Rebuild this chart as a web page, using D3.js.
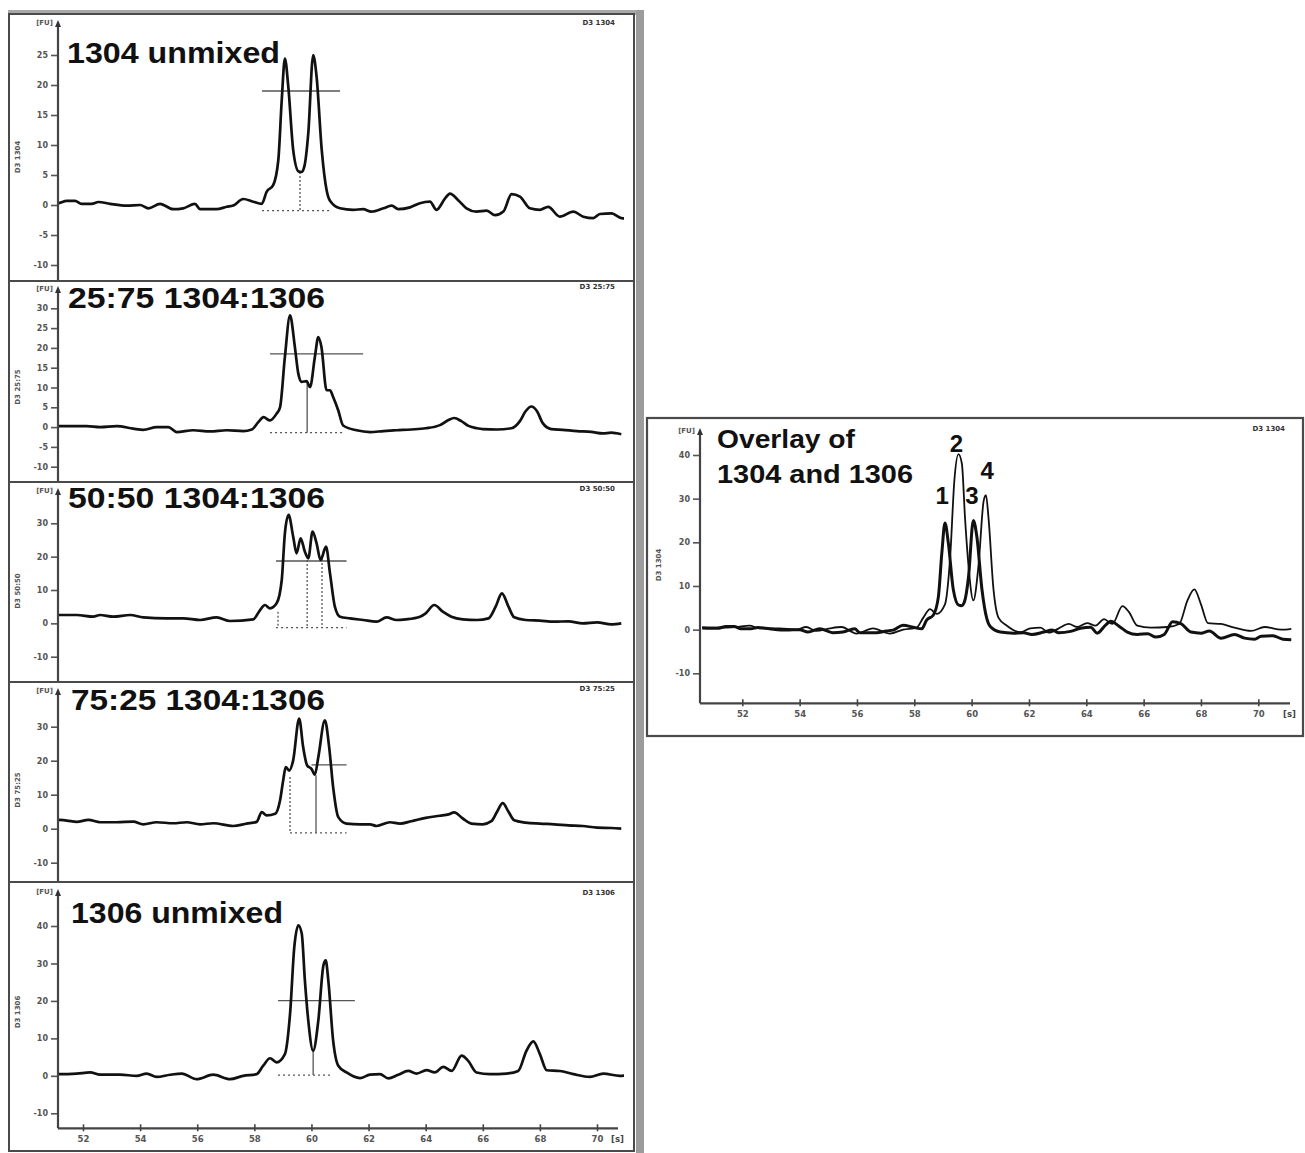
<!DOCTYPE html>
<html><head><meta charset="utf-8">
<script src="https://cdn.jsdelivr.net/npm/d3@7/dist/d3.min.js"></script>
<style>body{margin:0;background:#fff}svg{display:block}</style>
</head><body>
<svg id="c" width="1305" height="1153"></svg>
<script>
// ---------------- data ----------------
const timeTicks = [52, 54, 56, 58, 60, 62, 64, 66, 68, 70];
const panelTitles = ["1304 unmixed", "25:75 1304:1306", "50:50 1304:1306", "75:25 1304:1306", "1306 unmixed"];
const sampleNames = ["D3 1304", "D3 25:75", "D3 50:50", "D3 75:25", "D3 1306"];
const overlayTitle = ["Overlay of", "1304 and 1306"];
const overlaySample = "D3 1304";
const yTicks1304 = [-10, -5, 0, 5, 10, 15, 20, 25];
const yTicks2575 = [-10, -5, 0, 5, 10, 15, 20, 25, 30];
const yTicks5050 = [-10, 0, 10, 20, 30];
const yTicks7525 = [-10, 0, 10, 20, 30];
const yTicks1306 = [-10, 0, 10, 20, 30, 40];
const yTicksOverlay = [-10, 0, 10, 20, 30, 40];

// [time (s), fluorescence (FU)]
const trace1304 = [[50.6,0.4],[51.125,0.3],[51.43,0.7],[51.72,0.7],[51.95,0.2],[52.3,0.2],[52.54,0.5],[52.95,0.2],[53.53,-0.1],[54.0,0],[54.29,-0.55],[54.7,0.2],[55.16,-0.7],[55.51,-0.55],[55.92,0.2],[56.1,-0.7],[56.68,-0.7],[57.03,-0.3],[57.26,-0.1],[57.61,1.0],[57.96,0.55],[58.26,0.2],[58.43,2.2],[58.66,3.3],[58.84,7.5],[58.96,17.5],[59.07,24.4],[59.19,19.7],[59.36,9.2],[59.55,5.6],[59.65,5.5],[59.75,6.4],[59.89,12],[60.06,25],[60.18,21.4],[60.36,9.2],[60.53,2.5],[60.65,0.7],[61.0,-0.55],[61.46,-0.8],[61.81,-0.7],[62.1,-1.1],[62.52,-0.55],[62.81,-0.1],[63.04,-0.7],[63.45,-0.4],[63.8,0.3],[64.15,0.55],[64.38,-0.8],[64.68,1.1],[64.85,1.9],[65.14,0.8],[65.43,-0.55],[65.78,-1.1],[66.14,-0.95],[66.43,-1.7],[66.72,-1.1],[67.01,1.8],[67.3,1.4],[67.65,-0.55],[68.0,-0.8],[68.29,-0.3],[68.7,-1.95],[69.17,-1.1],[69.52,-1.95],[69.87,-2.2],[70.1,-1.5],[70.51,-1.4],[70.86,-2.2],[71.15,-2.3]];
const trace2575 = [[51.08,0.25],[51.43,0.25],[52.13,0.25],[52.6,0],[53.18,0.25],[53.76,-0.4],[54.11,-0.7],[54.58,0],[54.99,0],[55.28,-1.25],[55.86,-0.8],[56.45,-1.1],[57.03,-0.8],[57.61,-1],[57.91,-0.6],[58.14,1.25],[58.32,2.5],[58.55,1.7],[58.78,3.4],[58.9,5],[59.07,17.7],[59.25,28.2],[59.42,20.2],[59.54,13.5],[59.66,11.4],[59.83,11.6],[59.95,10.1],[60.12,17.7],[60.24,22.7],[60.35,20.2],[60.53,9.3],[60.65,9.3],[60.76,7.6],[60.94,4.2],[61.11,0.4],[61.58,-0.8],[62.05,-1.25],[62.52,-1],[62.98,-0.8],[63.5,-0.6],[64.0,-0.3],[64.5,0.5],[64.8,1.8],[65.0,2.3],[65.25,1.5],[65.5,0.3],[65.8,-0.3],[66.0,-0.5],[66.5,-0.6],[67.0,-0.3],[67.3,1.5],[67.5,4],[67.7,5.2],[67.9,4],[68.1,1],[68.4,-0.5],[68.8,-0.7],[69.3,-1],[69.8,-1.2],[70.2,-1.6],[70.5,-1.4],[70.85,-1.8]];
const trace5050 = [[51.1,2.5],[51.78,2.5],[52.36,2.0],[52.6,2.5],[53.06,2.0],[53.65,2.5],[54.11,1.8],[54.93,1.5],[55.51,1.5],[56.1,1.0],[56.68,1.8],[57.15,0.7],[57.96,1.2],[58.2,4],[58.37,5.5],[58.55,4.5],[58.78,6],[58.96,13],[59.07,27],[59.2,32.5],[59.36,26],[59.48,21],[59.62,25.5],[59.77,21.5],[59.89,19.5],[60.04,27.5],[60.18,24],[60.32,19],[60.51,23],[60.65,15],[60.82,5],[61.0,2],[61.35,1.5],[61.81,1],[62.28,0.5],[62.63,1.8],[62.98,1],[63.3,1.2],[63.8,2],[64.0,3],[64.3,5.5],[64.6,3.5],[64.9,2],[65.3,1.2],[65.8,1],[66.2,1.5],[66.45,5],[66.67,9],[66.9,5],[67.1,1.8],[67.5,1],[68,0.8],[68.5,0.5],[69,0.6],[69.5,0],[70,0.3],[70.5,-0.3],[70.85,0]];
const trace7525 = [[51.1,2.6],[51.43,2.4],[51.78,2],[52.19,2.6],[52.6,1.9],[53.18,1.9],[53.76,2.1],[54.11,1.3],[54.58,1.9],[55.16,1.6],[55.63,1.9],[56.1,1.3],[56.56,1.6],[57.26,0.8],[57.73,1.5],[58.08,2],[58.26,4.9],[58.43,3.9],[58.73,4.4],[58.9,8.3],[59.01,14.2],[59.1,18.1],[59.22,17.1],[59.36,20.1],[59.57,32.4],[59.71,24],[59.85,18.6],[60.0,17.6],[60.12,15.9],[60.24,21],[60.47,31.9],[60.62,24],[60.76,12.2],[60.94,3.4],[61.23,1.5],[61.7,1.3],[62.05,1.3],[62.28,0.8],[62.75,1.9],[63.1,1.5],[63.5,2.2],[64.0,3.2],[64.5,3.8],[64.8,4.2],[65.0,4.8],[65.3,3],[65.6,1.5],[66.0,1.3],[66.3,2.2],[66.5,5],[66.7,7.5],[66.9,5],[67.1,2.5],[67.5,1.8],[68.0,1.5],[68.5,1.3],[69.0,1],[69.5,0.8],[70,0.3],[70.5,0.2],[70.85,0]];
const trace1306 = [[50.6,0.5],[51.125,0.45],[51.78,0.6],[52.25,0.9],[52.6,0.3],[53.3,0.3],[53.88,0],[54.23,0.6],[54.58,-0.3],[55.05,0.3],[55.46,0.6],[55.98,-0.9],[56.56,0.3],[57.15,-0.9],[57.61,0],[58.08,0.45],[58.31,2.7],[58.55,4.7],[58.78,3.6],[59.07,5.8],[59.25,16.5],[59.4,34.4],[59.54,40.2],[59.66,38],[59.77,25.5],[59.89,14.7],[60.06,6.7],[60.24,14.7],[60.42,29.5],[60.5,30.8],[60.59,25.5],[60.76,9.4],[60.94,2.7],[61.23,0.9],[61.7,-0.6],[62.05,0.3],[62.4,0.45],[62.69,-0.7],[63.04,0.3],[63.39,1.3],[63.68,0.6],[64.03,1.5],[64.32,0.9],[64.62,2.4],[64.91,1.3],[65.26,5.4],[65.49,4],[65.78,0.9],[66.25,0.45],[66.83,0.6],[67.24,1.3],[67.53,6.7],[67.77,9.2],[68.0,5.8],[68.24,1.5],[68.7,1.3],[69.17,0.45],[69.75,-0.3],[70.22,0.6],[70.8,0],[71.15,0.2]];

// integration markers per panel: threshold [level, from, to], baseline [level, from, to], splits [time, top, dashed]
const thresholds = [[19, 58.27, 61.0], [18.5, 58.55, 61.81], [18.7, 58.76, 61.23], [18.8, 60.0, 61.23], [20.1, 58.83, 61.52]];
const baselines = [[-0.95, 58.27, 60.65], [-1.4, 58.55, 61.17], [-1.3, 58.76, 61.23], [-1.2, 59.25, 61.23], [0.2, 58.83, 60.75]];
const splits = [[[59.6, 5.5, 1]], [[59.85, 11, 0]], [[58.83, 3.5, 1], [59.85, 19, 1], [60.37, 19.3, 1]], [[59.25, 15.2, 1], [60.16, 15.7, 0]], [[60.06, 7.2, 0]]];

const peakLabels = ["1", "2", "3", "4"];
const peakLabelTime = [58.97, 59.47, 60.01, 60.54];
const peakLabelLevel = [28.8, 40.8, 28.8, 34.6];

// ---------------- drawing ----------------
const svg = d3.select("#c");
svg.append("rect").attr("width", 1305).attr("height", 1153).attr("fill", "#fff");
const FONT = "'Liberation Sans', Arial, sans-serif";
const SMALL = "'DejaVu Sans', sans-serif";
const ink = "#111";
const fmt = d => String(d);

const traces = [trace1304, trace2575, trace5050, trace7525, trace1306];
const yTicksAll = [yTicks1304, yTicks2575, yTicks5050, yTicks7525, yTicks1306];
const layout = [
  {top: 14, bottom: 281, yr: [265, 55], arrow: 24, title: 63, tx: 67, tw: 213, sample: 25, lab: 157},
  {top: 281, bottom: 482, yr: [466.7, 308.3], arrow: 290, title: 308, tx: 68, tw: 257, sample: 289, lab: 387},
  {top: 482, bottom: 682, yr: [656.7, 523.3], arrow: 492, title: 508, tx: 68, tw: 257, sample: 491, lab: 591},
  {top: 682, bottom: 882, yr: [862.7, 726.7], arrow: 692, title: 710, tx: 71, tw: 254, sample: 691, lab: 790},
  {top: 882, bottom: 1151, yr: [1113.3, 926], arrow: 893, title: 923, tx: 71, tw: 212, sample: 895, lab: 1012}
];
const xL = d3.scaleLinear().domain([52, 70]).range([83, 597]);
const axisX0 = 58, axisX1 = 618;

// outer decorations of left column
svg.append("rect").attr("x", 8).attr("y", 10).attr("width", 636).attr("height", 5).attr("fill", "#a8a8a8");
svg.append("rect").attr("x", 636).attr("y", 10).attr("width", 8).attr("height", 1143).attr("fill", "#9c9c9c");

function drawYAxis(g, y, ticks, xAxis, arrowTop, bottom) {
  const ax = g.append("g").attr("transform", `translate(${xAxis},0)`)
    .call(d3.axisLeft(y).tickValues(ticks).tickSize(7).tickPadding(3).tickFormat(fmt));
  ax.select(".domain").remove();
  ax.selectAll("line").attr("stroke", "#555").attr("stroke-width", 1.6);
  ax.selectAll("text").attr("font-family", SMALL).attr("font-size", 8).attr("font-weight", "bold").attr("fill", "#555");
  g.append("line").attr("x1", xAxis).attr("x2", xAxis).attr("y1", arrowTop).attr("y2", bottom)
    .attr("stroke", "#444").attr("stroke-width", 2.2);
  g.append("path").attr("d", `M${xAxis},${arrowTop - 4}L${xAxis - 3},${arrowTop + 3}L${xAxis + 3},${arrowTop + 3}Z`).attr("fill", "#333");
  g.append("text").attr("x", xAxis - 5).attr("y", arrowTop + 1).attr("text-anchor", "end")
    .attr("font-family", SMALL).attr("font-size", 7).attr("font-weight", "bold").attr("fill", "#555").text("[FU]");
}

function drawXAxis(g, x, yAxis, x0, x1) {
  g.append("line").attr("x1", x0).attr("x2", x1).attr("y1", yAxis).attr("y2", yAxis).attr("stroke", "#444").attr("stroke-width", 2.2);
  const ax = g.append("g").attr("transform", `translate(0,${yAxis})`)
    .call(d3.axisBottom(x).tickValues(timeTicks).tickSize(3).tickPadding(5).tickFormat(fmt));
  ax.select(".domain").remove();
  ax.selectAll("line").attr("stroke", "#444").attr("stroke-width", 1.6);
  ax.selectAll("text").attr("font-family", SMALL).attr("font-size", 8.5).attr("font-weight", "bold").attr("fill", "#555");
  const up = g.append("g").attr("transform", `translate(0,${yAxis})`)
    .call(d3.axisBottom(x).tickValues(timeTicks).tickSize(-4).tickFormat(""));
  up.select(".domain").remove();
  up.selectAll("line").attr("stroke", "#444").attr("stroke-width", 1.6);
  g.append("text").attr("x", x1 - 7).attr("y", yAxis + 14).attr("font-family", SMALL).attr("font-size", 8.5)
    .attr("font-weight", "bold").attr("fill", "#444").text("[s]");
}

function drawTrace(g, data, x, y, clipId, width) {
  const line = d3.line().x(d => x(d[0])).y(d => y(d[1])).curve(d3.curveMonotoneX);
  g.append("path").datum(data).attr("d", line).attr("fill", "none").attr("stroke", ink)
    .attr("stroke-width", width).attr("stroke-linejoin", "round").attr("clip-path", `url(#${clipId})`);
}

const defs = svg.append("defs");

layout.forEach((L, i) => {
  const g = svg.append("g");
  const y = d3.scaleLinear().domain([yTicksAll[i][0], yTicksAll[i][yTicksAll[i].length - 1]]).range(L.yr);
  g.append("rect").attr("x", 9).attr("y", L.top).attr("width", 625).attr("height", L.bottom - L.top)
    .attr("fill", "none").attr("stroke", "#4a4a4a").attr("stroke-width", 2);
  const clipId = "clip" + i;
  defs.append("clipPath").attr("id", clipId).append("rect")
    .attr("x", axisX0 + 1).attr("y", L.top + 2).attr("width", 623 - axisX0).attr("height", L.bottom - L.top - 4);

  const isLast = i === layout.length - 1;
  const axisBottom = isLast ? 1128.3 : L.bottom;
  drawYAxis(g, y, yTicksAll[i], axisX0, L.arrow, axisBottom);
  if (isLast) drawXAxis(g, xL, 1128.3, axisX0, axisX1);

  // integration markers
  const th = thresholds[i], bl = baselines[i];
  g.append("line").attr("x1", xL(th[1])).attr("x2", xL(th[2])).attr("y1", y(th[0])).attr("y2", y(th[0]))
    .attr("stroke", "#555").attr("stroke-width", 1.3);
  g.append("line").attr("x1", xL(bl[1])).attr("x2", xL(bl[2])).attr("y1", y(bl[0])).attr("y2", y(bl[0]))
    .attr("stroke", "#555").attr("stroke-width", 1.3).attr("stroke-dasharray", "2,3");
  splits[i].forEach(s => {
    g.append("line").attr("x1", xL(s[0])).attr("x2", xL(s[0])).attr("y1", y(s[1])).attr("y2", y(bl[0]))
      .attr("stroke", "#555").attr("stroke-width", 1.3).attr("stroke-dasharray", s[2] ? "2,2" : null);
  });

  drawTrace(g, traces[i], xL, y, clipId, 2.7);

  g.append("text").attr("x", L.tx).attr("y", L.title).attr("font-family", FONT).attr("font-size", 30)
    .attr("font-weight", "bold").attr("fill", ink).attr("textLength", L.tw).attr("lengthAdjust", "spacingAndGlyphs")
    .text(panelTitles[i]);
  g.append("text").attr("x", 615).attr("y", L.sample).attr("text-anchor", "end").attr("font-family", SMALL)
    .attr("font-size", 7).attr("font-weight", "bold").attr("fill", "#333").text(sampleNames[i]);
  g.append("text").attr("transform", `translate(20,${L.lab}) rotate(-90)`).attr("text-anchor", "middle")
    .attr("font-family", SMALL).attr("font-size", 7).attr("font-weight", "bold").attr("fill", "#555").text(sampleNames[i]);
});

// ---------------- overlay panel ----------------
{
  const g = svg.append("g");
  const x = d3.scaleLinear().domain([52, 70]).range([742.3, 1258.3]);
  const y = d3.scaleLinear().domain([yTicksOverlay[0], yTicksOverlay[yTicksOverlay.length - 1]]).range([673.3, 455]);
  g.append("rect").attr("x", 647).attr("y", 418).attr("width", 656).attr("height", 318)
    .attr("fill", "none").attr("stroke", "#4a4a4a").attr("stroke-width", 2.2);
  defs.append("clipPath").attr("id", "clipO").append("rect").attr("x", 701).attr("y", 425).attr("width", 591).attr("height", 277);
  drawYAxis(g, y, yTicksOverlay, 700, 432, 703.3);
  drawXAxis(g, x, 703.3, 700, 1290);
  drawTrace(g, trace1306, x, y, "clipO", 1.8);
  drawTrace(g, trace1304, x, y, "clipO", 3);
  g.append("text").attr("x", 717).attr("y", 448).attr("font-family", FONT).attr("font-size", 25)
    .attr("font-weight", "bold").attr("fill", ink).attr("textLength", 138).attr("lengthAdjust", "spacingAndGlyphs").text(overlayTitle[0]);
  g.append("text").attr("x", 717).attr("y", 483).attr("font-family", FONT).attr("font-size", 25)
    .attr("font-weight", "bold").attr("fill", ink).attr("textLength", 196).attr("lengthAdjust", "spacingAndGlyphs").text(overlayTitle[1]);
  peakLabels.forEach((t, k) => {
    g.append("text").attr("x", x(peakLabelTime[k])).attr("y", y(peakLabelLevel[k])).attr("text-anchor", "middle")
      .attr("font-family", FONT).attr("font-size", 24).attr("font-weight", "bold").attr("fill", ink).text(t);
  });
  g.append("text").attr("x", 1285).attr("y", 431).attr("text-anchor", "end").attr("font-family", SMALL)
    .attr("font-size", 7).attr("font-weight", "bold").attr("fill", "#333").text(overlaySample);
  g.append("text").attr("transform", `translate(661,565) rotate(-90)`).attr("text-anchor", "middle")
    .attr("font-family", SMALL).attr("font-size", 7).attr("font-weight", "bold").attr("fill", "#555").text(overlaySample);
}
</script>
</body></html>
